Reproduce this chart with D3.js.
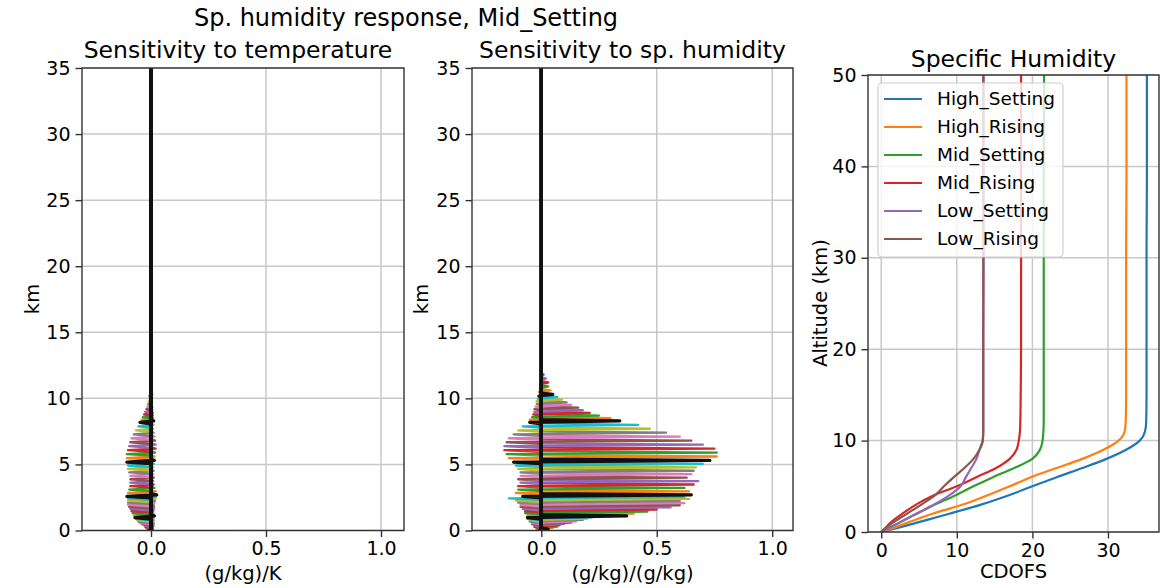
<!DOCTYPE html>
<html><head><meta charset="utf-8">
<script src="https://cdn.jsdelivr.net/npm/d3@7"></script>
<style>
body{margin:0;background:#fff;}
text{font-family:"DejaVu Sans",sans-serif;fill:#000;}
</style></head>
<body><svg id="c" width="1167" height="588"></svg>
<script>
// ---------- data ----------
const levels = [0.1,0.2,0.3,0.4,0.5,0.6,0.7,0.8,0.9,1.0,
  1.1,1.27,1.43,1.59,1.75,1.91,2.07,2.23,2.39,2.55,
  2.7,2.96,3.22,3.48,3.74,4.0,4.26,4.52,4.78,5.04,
  5.3,5.6,5.9,6.2,6.5,6.8,7.1,7.4,7.7,8.0,
  8.3,8.5,8.7,8.9,9.1,9.3,9.5,9.7,9.9,10.1,
  10.3,10.6,10.9,11.2,11.5,11.8];
const qPos = [0.03,0.05,0.07,0.08,0.1,0.13,0.15,0.18,0.2,0.22,
  0.37,0.4,0.46,0.5,0.56,0.6,0.62,0.6,0.64,0.62,
  0.65,0.64,0.62,0.66,0.68,0.63,0.65,0.66,0.67,0.7,
  0.73,0.76,0.76,0.75,0.7,0.65,0.6,0.54,0.47,0.42,
  0.34,0.3,0.25,0.21,0.18,0.16,0.13,0.11,0.09,0.07,
  0.05,0.04,0.03,0.03,0.02,0.01];
const qNeg = [-0.01,-0.02,-0.02,-0.03,-0.03,-0.04,-0.04,-0.05,-0.05,-0.06,
  -0.06,-0.06,-0.07,-0.07,-0.08,-0.09,-0.09,-0.1,-0.11,-0.14,
  -0.08,-0.11,-0.1,-0.1,-0.09,-0.1,-0.09,-0.09,-0.1,-0.11,
  -0.12,-0.14,-0.15,-0.16,-0.16,-0.15,-0.14,-0.12,-0.1,-0.08,
  -0.05,-0.05,-0.04,-0.035,-0.03,-0.03,-0.025,-0.02,-0.02,-0.015,
  -0.01,-0.01,-0.005,-0.005,0,0];
const tNeg = [-0.01,-0.015,-0.02,-0.025,-0.03,-0.04,-0.05,-0.055,-0.06,-0.065,
  -0.07,-0.075,-0.08,-0.085,-0.09,-0.095,-0.1,-0.1,-0.1,-0.1,
  -0.105,-0.1,-0.095,-0.09,-0.09,-0.09,-0.09,-0.095,-0.1,-0.1,
  -0.105,-0.105,-0.105,-0.1,-0.095,-0.09,-0.085,-0.075,-0.065,-0.055,
  -0.048,-0.04,-0.035,-0.03,-0.025,-0.02,-0.016,-0.012,-0.01,-0.006,
  -0.004,-0.003,-0.002,-0.001,0,0];
const tPos = [0.005,0.008,0.01,0.01,0.012,0.01,0.01,0.012,0.01,0.012,
  0.015,0.012,0.01,0.012,0.015,0.012,0.015,0.018,0.02,0.022,
  0.025,0.02,0.015,0.012,0.01,0.012,0.01,0.012,0.01,0.012,
  0.015,0.015,0.018,0.02,0.02,0.018,0.015,0.012,0.01,0.01,
  0.012,0.01,0.008,0.008,0.006,0.006,0.005,0.005,0.004,0.004,
  0.003,0.003,0.002,0.002,0.001,0.001];
const profileTop = 60;
const lineCycle = ["#000000","#ff7f0e","#2ca02c","#d62728","#9467bd","#8c564b","#e377c2","#7f7f7f","#bcbd22","#17becf"];

const cdofsAlt = [0,0.5,1,2,3,4,5,6,7,8,9,10,11,12,15,20,30,40,50];
const highSetting = [0,2.4,4.6,9.0,13.2,16.8,20.0,23.2,26.6,29.8,32.4,34.2,34.9,35.05,35.1,35.1,35.1,35.15,35.15];
const highRising  = [0,1.8,3.4,6.8,10.8,14.0,17.0,19.8,23.2,26.6,29.4,31.4,32.2,32.35,32.4,32.4,32.4,32.45,32.45];
const midSetting  = [0,1.1,2.3,4.7,7.1,9.8,12.2,14.8,17.6,20.0,21.0,21.35,21.45,21.5,21.5,21.5,21.5,21.5,21.55];
const midRising   = [0,0.6,1.2,2.8,4.6,6.9,10.0,12.6,15.2,17.0,17.9,18.2,18.35,18.4,18.45,18.5,18.5,18.5,18.5];
const lowSetting  = [0,1.3,2.4,4.6,7.0,9.0,10.5,11.2,11.9,12.6,13.0,13.4,13.5,13.5,13.5,13.5,13.55,13.55,13.55];
const lowRising   = [0,0.7,1.5,3.4,5.3,7.1,8.3,9.6,11.0,12.2,13.0,13.45,13.5,13.5,13.5,13.5,13.5,13.5,13.5];
const seriesNames = ["High_Setting","High_Rising","Mid_Setting","Mid_Rising","Low_Setting","Low_Rising"];
const seriesValues = [highSetting,highRising,midSetting,midRising,lowSetting,lowRising];
const seriesColors = ["#1f77b4","#ff7f0e","#2ca02c","#d62728","#9467bd","#8c564b"];

const sensXTicks = [0,0.5,1.0];
const sensYTicks = [0,5,10,15,20,25,30,35];
const cdXTicks = [0,10,20,30];
const cdYTicks = [0,10,20,30,40,50];

// ---------- drawing ----------
const svg = d3.select("#c");
const FS = 19, LFS = 19.5, LEGFS = 18.5, TFS = 23.5, STFS = 24;

function panel(id, box, xDom, yDom, xTicks, yTicks, xFmt){
  const x = d3.scaleLinear().domain(xDom).range([box.x0, box.x1]);
  const y = d3.scaleLinear().domain(yDom).range([box.y1, box.y0]);
  const g = svg.append("g");
  svg.append("clipPath").attr("id", id).append("rect")
    .attr("x", box.x0).attr("y", box.y0).attr("width", box.x1-box.x0).attr("height", box.y1-box.y0);
  g.selectAll(".gx").data(xTicks).join("line")
    .attr("x1", d=>x(d)).attr("x2", d=>x(d)).attr("y1", box.y0).attr("y2", box.y1)
    .attr("stroke", "#c8c8c8").attr("stroke-width", 1.5);
  g.selectAll(".gy").data(yTicks).join("line")
    .attr("x1", box.x0).attr("x2", box.x1).attr("y1", d=>y(d)).attr("y2", d=>y(d))
    .attr("stroke", "#c8c8c8").attr("stroke-width", 1.5);
  const plot = svg.append("g").attr("clip-path", `url(#${id})`);
  const axes = svg.append("g");
  return {x, y, plot, axes, box, xTicks, yTicks, xFmt};
}
function finishAxes(p){
  const {x, y, axes, box, xTicks, yTicks, xFmt} = p;
  const ax = axes.append("g").attr("transform", `translate(0,${box.y1})`)
    .call(d3.axisBottom(x).tickValues(xTicks).tickFormat(xFmt).tickSize(6.5).tickPadding(5));
  const ay = axes.append("g").attr("transform", `translate(${box.x0},0)`)
    .call(d3.axisLeft(y).tickValues(yTicks).tickFormat(d3.format("d")).tickSize(6.5).tickPadding(5));
  [ax, ay].forEach(a=>{
    a.select(".domain").remove();
    a.selectAll(".tick line").attr("stroke", "#333").attr("stroke-width", 1.4);
    a.selectAll(".tick text").attr("font-size", FS).attr("font-family", "DejaVu Sans").attr("fill", "#111");
  });
  axes.append("rect").attr("x", box.x0).attr("y", box.y0)
    .attr("width", box.x1-box.x0).attr("height", box.y1-box.y0)
    .attr("fill", "none").attr("stroke", "#333").attr("stroke-width", 1.4);
}

function drawSens(p, posArr, negArr){
  const line = d3.line().x(d=>p.x(d[0])).y(d=>p.y(d[1]));
  const profiles = levels.map((z,i)=>({i, pts:[[0,0],[0,z-0.24],[negArr[i],z-0.12],[posArr[i],z],[0,z+0.1],[0,profileTop]]}));
  const colored = profiles.filter(d=>d.i%10!==0), black = profiles.filter(d=>d.i%10===0);
  p.plot.selectAll(".pc").data(colored).join("path")
    .attr("d", d=>line(d.pts)).attr("fill","none")
    .attr("stroke", d=>lineCycle[d.i%10]).attr("stroke-width", 2.3).attr("stroke-linejoin","round");
  p.plot.selectAll(".pb").data(black).join("path")
    .attr("d", d=>line(d.pts)).attr("fill","none")
    .attr("stroke", "#111").attr("stroke-width", 3.2).attr("stroke-linejoin","round");
}

const p1 = panel("cp1", {x0:82,x1:404,y0:68,y1:530.5}, [-0.3,1.1], [0,35], sensXTicks, sensYTicks, d3.format(".1f"));
drawSens(p1, tPos, tNeg);
finishAxes(p1);
const p2 = panel("cp2", {x0:472,x1:793,y0:68,y1:530.5}, [-0.3,1.09], [0,35], sensXTicks, sensYTicks, d3.format(".1f"));
drawSens(p2, qPos, qNeg);
finishAxes(p2);
const p3 = panel("cp3", {x0:868,x1:1159,y0:75,y1:532}, [-1.75,36.75], [0,50], cdXTicks, cdYTicks, d3.format("d"));
const cdLine = d3.line().x(d=>p3.x(d[0])).y(d=>p3.y(d[1])).curve(d3.curveMonotoneY);
p3.plot.selectAll(".cd").data(seriesValues).join("path")
  .attr("d", vals=>cdLine(vals.map((v,j)=>[v, cdofsAlt[j]])))
  .attr("fill","none").attr("stroke",(d,i)=>seriesColors[i]).attr("stroke-width",2.2);
finishAxes(p3);

// legend
const lg = svg.append("g");
lg.append("rect").attr("x",878).attr("y",83).attr("width",185).attr("height",174).attr("rx",4)
  .attr("fill","#fff").attr("fill-opacity",0.8).attr("stroke","#d0d0d0").attr("stroke-width",1.2);
seriesNames.forEach((n,i)=>{
  const yy = 99 + i*28;
  lg.append("line").attr("x1",884).attr("x2",922).attr("y1",yy).attr("y2",yy)
    .attr("stroke",seriesColors[i]).attr("stroke-width",2.2);
  lg.append("text").attr("x",937).attr("y",yy).attr("dy","0.35em").attr("font-size",LEGFS).text(n);
});

// titles and labels
svg.append("text").attr("x",406).attr("y",26).attr("text-anchor","middle").attr("font-size",STFS).text("Sp. humidity response, Mid_Setting");
svg.append("text").attr("x",238).attr("y",58).attr("text-anchor","middle").attr("font-size",TFS).text("Sensitivity to temperature");
svg.append("text").attr("x",632.5).attr("y",58).attr("text-anchor","middle").attr("font-size",TFS).text("Sensitivity to sp. humidity");
svg.append("text").attr("x",1013.5).attr("y",67).attr("text-anchor","middle").attr("font-size",TFS).text("Specific Humidity");
svg.append("text").attr("x",243).attr("y",580).attr("text-anchor","middle").attr("font-size",LFS).text("(g/kg)/K");
svg.append("text").attr("x",632.5).attr("y",580).attr("text-anchor","middle").attr("font-size",LFS).text("(g/kg)/(g/kg)");
svg.append("text").attr("x",1013.5).attr("y",578).attr("text-anchor","middle").attr("font-size",LFS).text("CDOFS");
svg.append("text").attr("transform","translate(39,299) rotate(-90)").attr("text-anchor","middle").attr("font-size",LFS).text("km");
svg.append("text").attr("transform","translate(428,299) rotate(-90)").attr("text-anchor","middle").attr("font-size",LFS).text("km");
svg.append("text").attr("transform","translate(827,303) rotate(-90)").attr("text-anchor","middle").attr("font-size",LFS).text("Altitude (km)");
</script></body></html>
